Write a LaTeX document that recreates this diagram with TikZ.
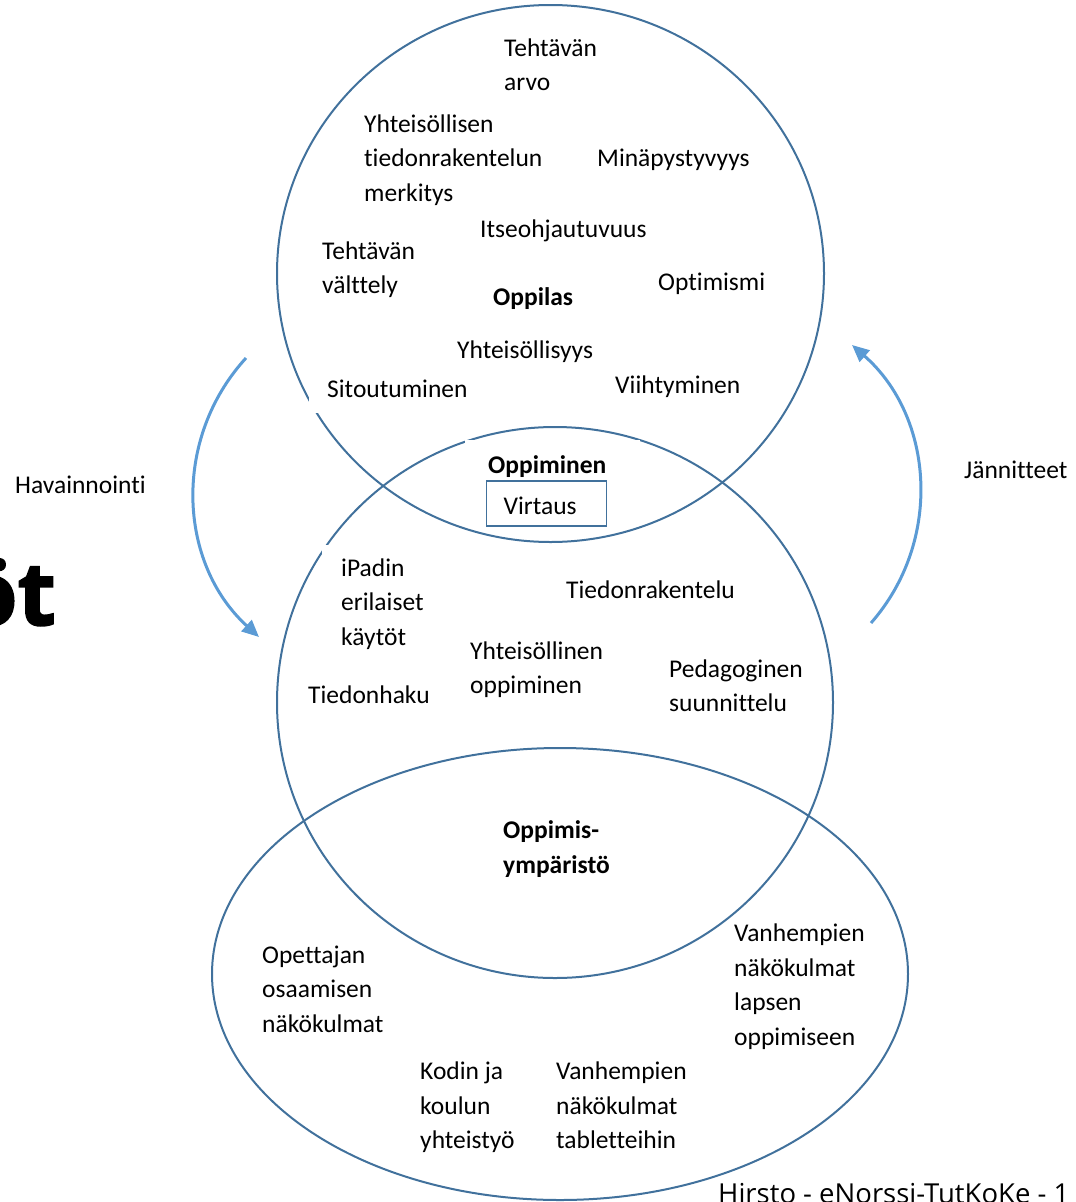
\documentclass[tikz,border=0pt]{standalone}
\usepackage{fontspec}
\setmainfont[Ligatures=NoCommon]{Carlito}
\newfontfamily\footfont{Open Sans}
\newfontfamily\titlefont[BoldFeatures={FakeBold=2}]{Open Sans}
\usetikzlibrary{arrows.meta}
\definecolor{ringblue}{HTML}{41719C}
\definecolor{arrowblue}{HTML}{5B9BD5}

\begin{document}
\begin{tikzpicture}[x=1pt,y=-1pt,
    ring/.style={draw=ringblue, line width=2pt},
    flow/.style={draw=arrowblue, line width=3pt, -{Triangle[length=17pt,width=15pt]}},
    lbl/.style={anchor=base west, align=left, inner sep=0pt, font=\fontsize{25.5}{34.6}\selectfont},
    hdr/.style={lbl, font=\fontsize{25.5}{34.6}\selectfont\bfseries}]
    \useasboundingbox (0,0) rectangle (1076,1202);

    % Circles
    \draw[ring] (550.5,273.5) ellipse [x radius=273.5pt, y radius=268.5pt];
    \draw[ring] (555,702.5) ellipse [x radius=278pt, y radius=275.5pt];
    \draw[ring] (560,974) ellipse [x radius=348pt, y radius=226pt];

    % Text box backgrounds
    \fill[white] (309,370) rectangle (470,413);
    \fill[white] (465,440) rectangle (640,478);
    \fill[white] (322,545) rectangle (440,655);

    % Oppilas (multi-line nodes sit on their last line)
    \node[hdr] (oppilas) at (493,305) {Oppilas};
    \node[lbl] (arvo) at (504,90.6) {Tehtävän\\arvo};
    \node[lbl] (merkitys) at (364,201.2) {Yhteisöllisen\\tiedonrakentelun\\merkitys};
    \node[lbl] (mina) at (597,166) {Minäpystyvyys};
    \node[lbl] (itse) at (480,237) {Itseohjautuvuus};
    \node[lbl] (valttely) at (322,293.6) {Tehtävän\\välttely};
    \node[lbl] (optimismi) at (658,290) {Optimismi};
    \node[lbl] (yhteisollisyys) at (457,358) {Yhteisöllisyys};
    \node[lbl] (sitoutuminen) at (327,397) {Sitoutuminen};
    \node[lbl] (viihtyminen) at (615,393) {Viihtyminen};

    % Oppiminen
    \node[hdr] (oppiminen) at (488,473) {Oppiminen};
    \node[draw=ringblue, line width=1.2pt, anchor=west, inner xsep=17pt, text width=86pt,
          text height=21pt, text depth=0pt, minimum height=45pt,
          font=\fontsize{25.5}{34.6}\selectfont] (virtaus) at (486,503.5) {Virtaus};
    \node[lbl] (ipadin) at (341,645.2) {iPadin\\erilaiset\\käytöt};
    \node[lbl] (tiedonrakentelu) at (566,598) {Tiedonrakentelu};
    \node[lbl] (yhtoppiminen) at (470,693.6) {Yhteisöllinen\\oppiminen};
    \node[lbl] (tiedonhaku) at (308,703) {Tiedonhaku};
    \node[lbl] (pedagoginen) at (669,711.6) {Pedagoginen\\suunnittelu};

    % Oppimisympäristö
    \node[hdr] (ymparisto) at (503,873.1) {Oppimis-\\ympäristö};
    \node[lbl] (opettajan) at (262,1032.2) {Opettajan\\osaamisen\\näkökulmat};
    \node[lbl] (vanhlapsen) at (734,1045.3) {Vanhempien\\näkökulmat\\lapsen\\oppimiseen};
    \node[lbl] (kodin) at (420,1148.7) {Kodin ja\\koulun\\yhteistyö};
    \node[lbl] (vanhtabletit) at (556,1148.7) {Vanhempien\\näkökulmat\\tabletteihin};

    % Arrows
    \coordinate (hav1) at (246,358);
    \coordinate (hav2) at (259,637);
    \draw[flow] (hav1) .. controls (172,439) and (178,563) .. (hav2);
    \node[lbl] (havainnointi) at (15,493) {Havainnointi};

    \coordinate (jan1) at (871,623);
    \coordinate (jan2) at (852,345);
    \draw[flow] (jan1) .. controls (943,541) and (934,417) .. (jan2);
    \node[lbl] (jannitteet) at (964,478) {Jännitteet};

    % Slide leftovers
    \node[anchor=base east, inner sep=0pt, font=\titlefont\fontsize{88}{88}\selectfont\bfseries] (title) at (56,625) {öt};
    \node[anchor=base west, inner sep=0pt, font=\footfont\fontsize{27.5}{30}\selectfont] (footer) at (718,1203) {Hirsto - eNorssi-TutKoKe - 1};
\end{tikzpicture}
\end{document}
